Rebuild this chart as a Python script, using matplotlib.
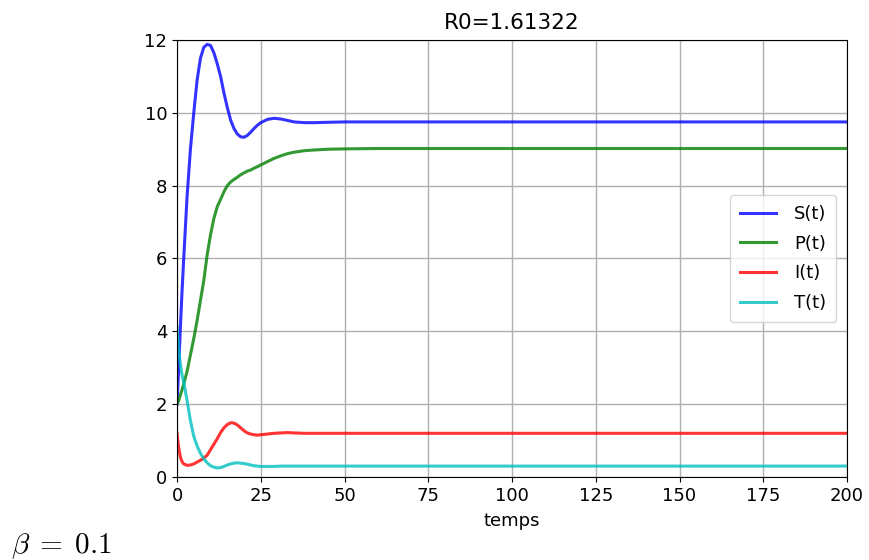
import matplotlib.pyplot as plt

plt.rcParams['mathtext.fontset'] = 'cm'

# === DONNÉES ===
t = [0, 0.5, 1, 1.5, 2, 3, 4, 5, 6, 7, 8, 9, 10, 11, 12, 13, 14, 15, 16, 17, 18, 19, 20,
     21, 22, 23, 24, 25, 27, 29, 31, 33, 35, 38, 41, 45, 50, 60, 80, 100, 150, 200]

S = [2.0, 3.0, 4.1, 5.1, 6.0, 7.7, 9.0, 10.0, 10.9, 11.5, 11.8, 11.88, 11.85, 11.65, 11.35,
     11.0, 10.55, 10.15, 9.8, 9.57, 9.42, 9.34, 9.33, 9.38, 9.47, 9.57, 9.66, 9.73, 9.82,
     9.85, 9.83, 9.79, 9.75, 9.73, 9.73, 9.74, 9.75, 9.75, 9.75, 9.75, 9.75, 9.75]

P = [2.0, 2.1, 2.25, 2.4, 2.55, 2.9, 3.35, 3.8, 4.3, 4.85, 5.4, 6.1, 6.65, 7.1, 7.42, 7.62,
     7.83, 8.0, 8.1, 8.17, 8.23, 8.3, 8.35, 8.4, 8.43, 8.48, 8.52, 8.57, 8.66, 8.75, 8.82,
     8.88, 8.92, 8.96, 8.98, 9.0, 9.01, 9.02, 9.02, 9.02, 9.02, 9.02]

I = [1.2, 0.8, 0.55, 0.42, 0.36, 0.32, 0.33, 0.36, 0.41, 0.46, 0.52, 0.6, 0.75, 0.9, 1.05,
     1.22, 1.35, 1.44, 1.49, 1.48, 1.43, 1.35, 1.27, 1.21, 1.18, 1.16, 1.15, 1.16, 1.18,
     1.2, 1.21, 1.22, 1.21, 1.2, 1.2, 1.2, 1.2, 1.2, 1.2, 1.2, 1.2, 1.2]

T = [4.1, 3.5, 3.1, 2.8, 2.6, 2.1, 1.55, 1.12, 0.85, 0.65, 0.5, 0.39, 0.31, 0.27, 0.25,
     0.26, 0.29, 0.33, 0.36, 0.38, 0.39, 0.38, 0.37, 0.35, 0.33, 0.31, 0.3, 0.29, 0.29,
     0.29, 0.3, 0.3, 0.3, 0.3, 0.3, 0.3, 0.3, 0.3, 0.3, 0.3, 0.3, 0.3]

R0 = 1.61322
beta = 0.1

# === GRAPHIQUE ===
fig = plt.figure(figsize=(8.69, 5.6), dpi=100)
ax = fig.add_axes([0.2037, 0.1482, 0.771, 0.7804])

ax.plot(t, S, 'b', alpha=0.8, lw=2.2, label='S(t)')
ax.plot(t, P, 'g', alpha=0.8, lw=2.2, label='P(t)')
ax.plot(t, I, 'r', alpha=0.8, lw=2.2, label='I(t)')
ax.plot(t, T, 'c', alpha=0.8, lw=2.2, label='T(t)')

ax.set_xlim(0, 200)
ax.set_ylim(0, 12)
ax.set_xticks(range(0, 201, 25))
ax.set_yticks(range(0, 13, 2))
ax.tick_params(labelsize=13)
ax.set_xlabel('temps', fontsize=13, labelpad=5)
ax.set_title(f'R0={R0}', fontsize=15.5, pad=8)
ax.grid(True, color='#b0b0b0', lw=1.0)
ax.legend(loc='center right', fontsize=13, labelspacing=0.65,
          handletextpad=1.0, borderpad=0.55, borderaxespad=0.6)

fig.text(0.013, 0.013, r'$\beta\;=\;%s$' % beta, fontsize=21)

plt.savefig('out.png')
